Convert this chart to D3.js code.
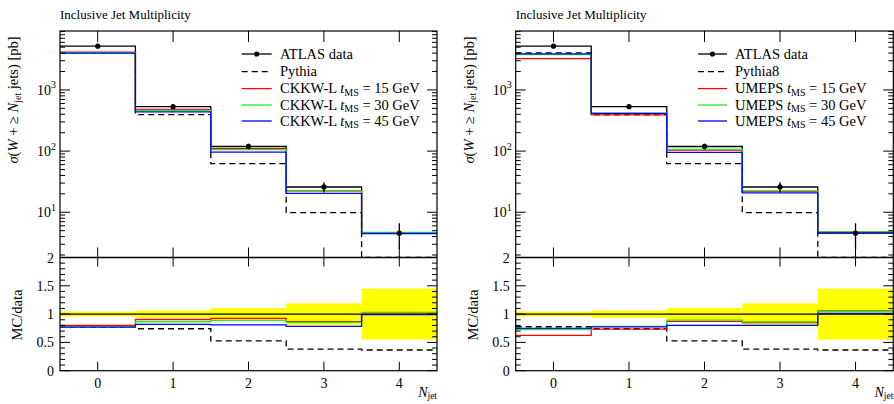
<!DOCTYPE html>
<html><head><meta charset="utf-8">
<script src="https://cdn.jsdelivr.net/npm/d3@7"></script>
<style>
html,body{margin:0;padding:0;background:#fff;}
svg text{font-family:"Liberation Serif","Times New Roman",serif;fill:#000;}
</style></head>
<body><svg id="c" width="894" height="404"></svg>
<script>
// ---------------- data ----------------
const nJet = [0, 1, 2, 3, 4];
const binEdges = [-0.5, 0.5, 1.5, 2.5, 3.5, 4.5];
const atlasData = [5200, 533, 119, 25.9, 4.54];           // pb
const atlasRelErr = [0.045, 0.065, 0.105, 0.19, 0.45];    // relative uncertainty (yellow band)

// left panel: CKKW-L
const pythiaLeft = [4040, 395, 62.5, 9.85, 1.66];
const ckkw15 = [4160, 482, 110, 22.4, 4.63];
const ckkw30 = [4056, 461, 106, 22.1, 4.68];
const ckkw45 = [4004, 437, 96.4, 20.3, 4.49];

// right panel: UMEPS
const pythia8Right = [4040, 395, 62.5, 9.85, 1.66];
const umeps15 = [3250, 392, 103.5, 22.0, 4.79];
const umeps30 = [3770, 418, 106.5, 22.3, 4.77];
const umeps45 = [3884, 413, 95.2, 20.7, 4.59];

const yMainDomain = [1.82, 9200];
const yRatioDomain = [0, 2];
const ratioTicks = [0, 0.5, 1, 1.5, 2];
const mainTickExps = [1, 2, 3];
const title = "Inclusive Jet Multiplicity";

const panels = [
  {x0: 60, x1: 437, legX: 241.7, legW: 30, textX: 280,
   series: [
     {name: "Pythia", vals: pythiaLeft, color: "#000", dash: "6,4"},
     {name: "CKKW-L", t: "15", vals: ckkw15, color: "#ff0000"},
     {name: "CKKW-L", t: "30", vals: ckkw30, color: "#22ee22"},
     {name: "CKKW-L", t: "45", vals: ckkw45, color: "#0000ff"}]},
  {x0: 515.7, x1: 893.3, legX: 698, legW: 29, textX: 735,
   series: [
     {name: "Pythia8", vals: pythia8Right, color: "#000", dash: "6,4"},
     {name: "UMEPS", t: "15", vals: umeps15, color: "#ff0000"},
     {name: "UMEPS", t: "30", vals: umeps30, color: "#22ee22"},
     {name: "UMEPS", t: "45", vals: umeps45, color: "#0000ff"}]}
];

// ---------------- drawing ----------------
const svg = d3.select("#c");
const mainTop = 31, mainBot = 257.5, ratBot = 370.7;
const LW = 1.3;

function stepPath(x, y, vals) {
  const pts = [];
  vals.forEach((v, i) => {
    pts.push([x(binEdges[i]), y(v)]);
    pts.push([x(binEdges[i + 1]), y(v)]);
  });
  return d3.line()(pts);
}

panels.forEach(p => {
  const g = svg.append("g");
  const x = d3.scaleLinear().domain([binEdges[0], binEdges[5]]).range([p.x0, p.x1]);
  const y = d3.scaleLog().domain(yMainDomain).range([mainBot, mainTop]).clamp(true);
  const yr = d3.scaleLinear().domain(yRatioDomain).range([ratBot, mainBot]);

  const cid = "clip" + Math.round(p.x0);
  const defs = svg.append("defs");
  defs.append("clipPath").attr("id", cid + "m").append("rect")
    .attr("x", p.x0).attr("y", mainTop).attr("width", p.x1 - p.x0).attr("height", mainBot - mainTop);
  defs.append("clipPath").attr("id", cid + "r").append("rect")
    .attr("x", p.x0).attr("y", mainBot).attr("width", p.x1 - p.x0).attr("height", ratBot - mainBot);

  // title
  g.append("text").attr("x", p.x0).attr("y", 18.5).attr("font-size", 13).text(title);

  // ---------- main panel ----------
  const gm = g.append("g").attr("clip-path", `url(#${cid}m)`);
  gm.append("path").attr("d", stepPath(x, y, atlasData)).attr("fill", "none")
    .attr("stroke", "#000").attr("stroke-width", LW);
  p.series.forEach(s => {
    gm.append("path").attr("d", stepPath(x, y, s.vals)).attr("fill", "none")
      .attr("stroke", s.color).attr("stroke-width", LW)
      .attr("stroke-dasharray", s.dash || null);
  });
  nJet.forEach((n, i) => {
    const v = atlasData[i], e = atlasRelErr[i];
    gm.append("line").attr("x1", x(n)).attr("x2", x(n))
      .attr("y1", y(v * (1 + e))).attr("y2", y(v * (1 - e)))
      .attr("stroke", "#000").attr("stroke-width", LW);
    gm.append("circle").attr("cx", x(n)).attr("cy", y(v)).attr("r", 2.6).attr("fill", "#000");
  });

  // ---------- ratio panel ----------
  const gr = g.append("g").attr("clip-path", `url(#${cid}r)`);
  nJet.forEach((n, i) => {
    const e = atlasRelErr[i];
    gr.append("rect").attr("x", x(binEdges[i])).attr("width", x(binEdges[i + 1]) - x(binEdges[i]))
      .attr("y", yr(1 + e)).attr("height", yr(1 - e) - yr(1 + e)).attr("fill", "#ffff00");
  });
  gr.append("line").attr("x1", p.x0).attr("x2", p.x1).attr("y1", yr(1)).attr("y2", yr(1))
    .attr("stroke", "#000").attr("stroke-width", LW);
  p.series.forEach(s => {
    const r = s.vals.map((v, i) => v / atlasData[i]);
    gr.append("path").attr("d", stepPath(x, yr, r)).attr("fill", "none")
      .attr("stroke", s.color).attr("stroke-width", LW)
      .attr("stroke-dasharray", s.dash || null);
  });

  // ---------- frames ----------
  g.append("rect").attr("x", p.x0).attr("y", mainTop).attr("width", p.x1 - p.x0)
    .attr("height", ratBot - mainTop).attr("fill", "none").attr("stroke", "#000").attr("stroke-width", 1.2);
  g.append("line").attr("x1", p.x0).attr("x2", p.x1).attr("y1", mainBot).attr("y2", mainBot)
    .attr("stroke", "#000").attr("stroke-width", 1.3);

  // ---------- ticks ----------
  const tk = (x1, y1, x2, y2, w) => g.append("line").attr("x1", x1).attr("y1", y1)
    .attr("x2", x2).attr("y2", y2).attr("stroke", "#000").attr("stroke-width", w || 1);
  nJet.forEach(n => {
    const xx = x(n);
    tk(xx, mainTop, xx, mainTop + 11);
    tk(xx, mainBot, xx, mainBot - 10);
    tk(xx, mainBot, xx, mainBot + 9);
    tk(xx, ratBot, xx, ratBot - 9);
    g.append("text").attr("x", xx).attr("y", 388).attr("text-anchor", "middle")
      .attr("font-size", 14).text(n);
  });
  for (let e = 0; e <= 3; e++) {
    for (let m = 1; m <= 9; m++) {
      const v = m * Math.pow(10, e);
      if (v < yMainDomain[0] || v > yMainDomain[1]) continue;
      const yy = y(v), len = m === 1 ? 10 : 5;
      tk(p.x0, yy, p.x0 + len, yy);
      tk(p.x1, yy, p.x1 - len, yy);
    }
  }
  mainTickExps.forEach(e => {
    const t = g.append("text").attr("x", p.x0 - 4).attr("y", y(Math.pow(10, e)) + 5)
      .attr("text-anchor", "end").attr("font-size", 14);
    t.append("tspan").text("10");
    t.append("tspan").attr("dy", -6.5).attr("font-size", 10).text(e);
  });
  for (let k = 0; k <= 20; k++) {
    const v = k / 10, yy = yr(v), len = (k % 5 === 0) ? 10 : 5;
    tk(p.x0, yy, p.x0 + len, yy);
    tk(p.x1, yy, p.x1 - len, yy);
  }
  ratioTicks.forEach(v => {
    g.append("text").attr("x", p.x0 - 6).attr("y", yr(v) + 5).attr("text-anchor", "end")
      .attr("font-size", 14).text(v);
  });

  // axis labels
  const yl = g.append("text").attr("transform", `translate(${p.x0 - 42},100) rotate(-90)`)
    .attr("text-anchor", "middle").attr("font-size", 14.5);
  yl.append("tspan").attr("font-style", "italic").text("σ");
  yl.append("tspan").text("(");
  yl.append("tspan").attr("font-style", "italic").text("W");
  yl.append("tspan").text(" + ≥ ");
  yl.append("tspan").attr("font-style", "italic").text("N");
  yl.append("tspan").attr("font-size", 10).attr("dy", 2.5).text("jet");
  yl.append("tspan").attr("dy", -2.5).text(" jets) [pb]");

  g.append("text").attr("transform", `translate(${p.x0 - 38},315) rotate(-90)`)
    .attr("text-anchor", "middle").attr("font-size", 14.5).text("MC/data");

  const xl = g.append("text").attr("x", p.x1).attr("y", 397).attr("text-anchor", "end").attr("font-size", 14);
  xl.append("tspan").attr("font-style", "italic").text("N");
  xl.append("tspan").attr("font-size", 9.5).attr("dy", 2).text("jet");

  // ---------- legend ----------
  const rows = [54, 71.7, 88.6, 105, 121];
  const lg = g.append("g");
  lg.append("line").attr("x1", p.legX).attr("x2", p.legX + p.legW).attr("y1", rows[0]).attr("y2", rows[0])
    .attr("stroke", "#000").attr("stroke-width", LW);
  lg.append("circle").attr("cx", p.legX + p.legW / 2).attr("cy", rows[0]).attr("r", 2.6).attr("fill", "#000");
  lg.append("text").attr("x", p.textX).attr("y", rows[0] + 4.5).attr("font-size", 14.5).text("ATLAS data");
  p.series.forEach((s, i) => {
    const yy = rows[i + 1];
    lg.append("line").attr("x1", p.legX).attr("x2", p.legX + p.legW).attr("y1", yy).attr("y2", yy)
      .attr("stroke", s.color).attr("stroke-width", LW).attr("stroke-dasharray", s.dash || null);
    const t = lg.append("text").attr("x", p.textX).attr("y", yy + 4.5).attr("font-size", 14.5);
    if (s.t) {
      t.append("tspan").text(s.name + " ");
      t.append("tspan").attr("font-style", "italic").text("t");
      t.append("tspan").attr("font-size", 10).attr("dy", 2.5).text("MS");
      t.append("tspan").attr("dy", -2.5).text(" = " + s.t + " GeV");
    } else {
      t.text(s.name);
    }
  });
});
</script>
</body></html>
